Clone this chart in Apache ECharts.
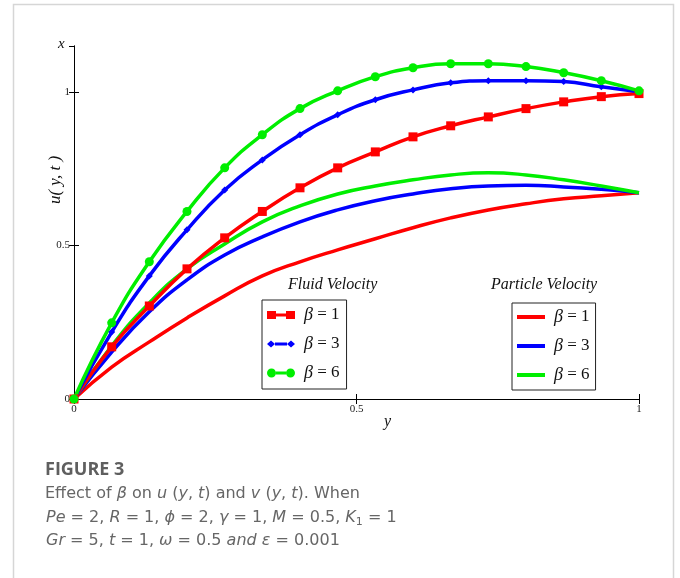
<!DOCTYPE html>
<html>
<head>
<meta charset="utf-8">
<script src="https://cdn.jsdelivr.net/npm/echarts@6/dist/echarts.min.js"></script>
<style>
html,body{margin:0;padding:0;background:#fff;}
#chart{width:680px;height:578px;}
</style>
</head>
<body>
<div id="chart"></div>
<script>
// y positions (horizontal axis)
var yGrid = [0, 0.0667, 0.1333, 0.2, 0.2667, 0.3333, 0.4, 0.4667, 0.5333, 0.6, 0.6667, 0.7333, 0.8, 0.8667, 0.9333, 1];
// Fluid velocity u(y,t)
var fluid1 = [0, 0.170, 0.303, 0.424, 0.525, 0.611, 0.688, 0.753, 0.805, 0.854, 0.890, 0.919, 0.946, 0.968, 0.985, 0.995];
var fluid3 = [0, 0.218, 0.401, 0.551, 0.681, 0.779, 0.861, 0.926, 0.975, 1.007, 1.030, 1.037, 1.037, 1.034, 1.017, 1.001];
var fluid6 = [0, 0.248, 0.447, 0.611, 0.753, 0.861, 0.946, 1.004, 1.050, 1.079, 1.092, 1.092, 1.083, 1.063, 1.037, 1.004];
// Particle velocity v(y,t)
var particle1 = [0, 0.104, 0.186, 0.264, 0.336, 0.401, 0.447, 0.486, 0.522, 0.558, 0.590, 0.616, 0.636, 0.652, 0.662, 0.672];
var particle3 = [0, 0.153, 0.284, 0.388, 0.469, 0.528, 0.577, 0.616, 0.646, 0.668, 0.685, 0.694, 0.696, 0.691, 0.683, 0.672];
var particle6 = [0, 0.173, 0.313, 0.424, 0.505, 0.577, 0.629, 0.668, 0.694, 0.714, 0.730, 0.737, 0.730, 0.714, 0.694, 0.672];
var betaValues = ['1', '3', '6'];
var xTicks = [0, 0.5, 1];

function pairs(ys){ return yGrid.map(function(x,i){ return [x, ys[i]]; }); }

var RED = '#ff0000', BLUE = '#0000ff', GREEN = '#00ee00';
var serif = "'Liberation Serif','DejaVu Serif',serif";

var chart = echarts.init(document.getElementById('chart'));

function fluidSeries(name, data, color, symbol, size){
  return {name:name, type:'line', data:pairs(data), smooth:true, xAxisIndex:0, yAxisIndex:0,
    symbol:symbol, symbolSize:size, showAllSymbol:true,
    lineStyle:{color:color, width:3.5}, itemStyle:{color:color}, z:3};
}
function particleSeries(name, data, color){
  return {name:name, type:'line', data:pairs(data), smooth:true, xAxisIndex:0, yAxisIndex:0,
    symbol:'none', lineStyle:{color:color, width:3.5}, itemStyle:{color:color}, z:2};
}

var axisCommon = {
  type:'value', min:0, max:1, interval:0.5,
  axisLine:{show:true, lineStyle:{color:'#000', width:1}},
  axisTick:{show:true, inside:true, length:5, lineStyle:{color:'#000'}},
  splitLine:{show:false}
};

var legendRich = {
  b:{fontFamily:serif, fontStyle:'italic', fontSize:18, color:'#111'},
  t:{fontFamily:serif, fontSize:17, color:'#111'}
};
function legendFmt(name){
  return '{b|β}{t| = ' + name.slice(-1) + '}';
}

var iconRect = 'path://M0,1h9v8h-9z M9,3.5h10v3h-10z M19,1h9v8h-9z';
var iconDiamond = 'path://M0,5L4,1.5L8,5L4,8.5z M8,3.5h12v3h-12z M20,5L24,1.5L28,5L24,8.5z';
var iconCircle = 'path://M0,5C0,2.5 2,0.5 4.5,0.5C7,0.5 9,2.5 9,5C9,7.5 7,9.5 4.5,9.5C2,9.5 0,7.5 0,5Z M9,3.5L19,3.5L19,6.5L9,6.5Z M19,5C19,2.5 21,0.5 23.5,0.5C26,0.5 28,2.5 28,5C28,7.5 26,9.5 23.5,9.5C21,9.5 19,7.5 19,5Z';

var option = {
  animation:false,
  backgroundColor:'#fff',
  grid:{left:74, top:46, right:41, bottom:179, containLabel:false},
  xAxis:[
    Object.assign({}, axisCommon, {position:'bottom',
      axisLabel:{show:true, margin:5, fontFamily:serif, fontSize:11, color:'#222',
        formatter:function(v){ return xTicks.indexOf(v) >= 0 ? String(v) : ''; }}}),
    Object.assign({}, axisCommon, {position:'top', axisLabel:{show:false}})
  ],
  yAxis:[
    Object.assign({}, axisCommon, {position:'left', max:1.15,
      axisLabel:{show:true, margin:4, fontFamily:serif, fontSize:11, color:'#222', showMaxLabel:false}}),
    Object.assign({}, axisCommon, {position:'right', max:1.15, axisLabel:{show:false}})
  ],
  title:[
    {text:'Fluid Velocity', left:283, top:272, textStyle:{fontFamily:serif, fontStyle:'italic', fontWeight:'normal', fontSize:16, color:'#111'}},
    {text:'Particle Velocity', left:486, top:272, textStyle:{fontFamily:serif, fontStyle:'italic', fontWeight:'normal', fontSize:16, color:'#111'}}
  ],
  legend:[
    {data:[{name:'Fluid β1', icon:iconRect},{name:'Fluid β3', icon:iconDiamond},{name:'Fluid β6', icon:iconCircle}],
      orient:'vertical', left:262, top:300,
      padding:[6,7,7,5], itemWidth:28, itemHeight:10, itemGap:11,
      borderColor:'#222', borderWidth:1, borderRadius:0, selectedMode:false,
      formatter:legendFmt, textStyle:{rich:legendRich, padding:[0,0,0,4]}},
    {data:[{name:'Particle β1', icon:'rect'},{name:'Particle β3', icon:'rect'},{name:'Particle β6', icon:'rect'}],
      orient:'vertical', left:512, top:303,
      padding:[5,6,6,5], itemWidth:28, itemHeight:4, itemGap:11,
      borderColor:'#222', borderWidth:1, borderRadius:0, selectedMode:false,
      formatter:legendFmt, textStyle:{rich:legendRich, padding:[0,0,0,4]}}
  ],
  series:[
    particleSeries('Particle β1', particle1, RED),
    particleSeries('Particle β3', particle3, BLUE),
    particleSeries('Particle β6', particle6, GREEN),
    fluidSeries('Fluid β1', fluid1, RED, 'rect', 9),
    fluidSeries('Fluid β3', fluid3, BLUE, 'diamond', 7),
    fluidSeries('Fluid β6', fluid6, GREEN, 'circle', 9)
  ],
  graphic:[
    {type:'rect', shape:{x:13.5, y:4.5, width:660, height:620}, style:{fill:'none', stroke:'#d6d6d6', lineWidth:1.5}, silent:true, z:-10},
    {type:'text', left:58, top:37, style:{text:'x', font:"italic 15px 'Liberation Serif', serif", fill:'#111'}},
    {type:'text', x:56, y:180, rotation:Math.PI/2, style:{text:'u( y, t )', font:"italic 17px 'Liberation Serif', serif", fill:'#111', align:'center', verticalAlign:'middle'}},
    {type:'text', left:384, top:414, style:{text:'y', font:"italic 16px 'Liberation Serif', serif", fill:'#111'}},
    {type:'text', left:45, top:461, style:{text:'FIGURE 3', font:"bold 18px 'Open Sans', sans-serif", fill:'#5f5f5f'}},
    {type:'text', left:45, top:486, style:{
      text:'{n|Effect of }{i|β}{n| on }{i|u}{n| (}{i|y}{n|, }{i|t}{n|) and }{i|v}{n| (}{i|y}{n|, }{i|t}{n|). When}',
      rich:{n:{font:"16px 'DejaVu Sans', sans-serif", fill:'#666'}, i:{font:"italic 16px 'DejaVu Sans', sans-serif", fill:'#666'}}}},
    {type:'text', left:46, top:510, style:{
      text:'{i|Pe}{n| = 2, }{i|R}{n| = 1, }{i|ϕ}{n| = 2, }{i|γ}{n| = 1, }{i|M}{n| = 0.5, }{i|K}{s|1}{n| = 1}',
      rich:{n:{font:"16px 'DejaVu Sans', sans-serif", fill:'#666'}, i:{font:"italic 16px 'DejaVu Sans', sans-serif", fill:'#666'}, s:{font:"11px 'DejaVu Sans', sans-serif", fill:'#666', padding:[8,0,0,0]}}}},
    {type:'text', left:46, top:533, style:{
      text:'{i|Gr}{n| = 5, }{i|t}{n| = 1, }{i|ω}{n| = 0.5 }{i|and}{n| }{i|ε}{n| = 0.001}',
      rich:{n:{font:"16px 'DejaVu Sans', sans-serif", fill:'#666'}, i:{font:"italic 16px 'DejaVu Sans', sans-serif", fill:'#666'}}}}
  ]
};
chart.setOption(option);
</script>
</body>
</html>
